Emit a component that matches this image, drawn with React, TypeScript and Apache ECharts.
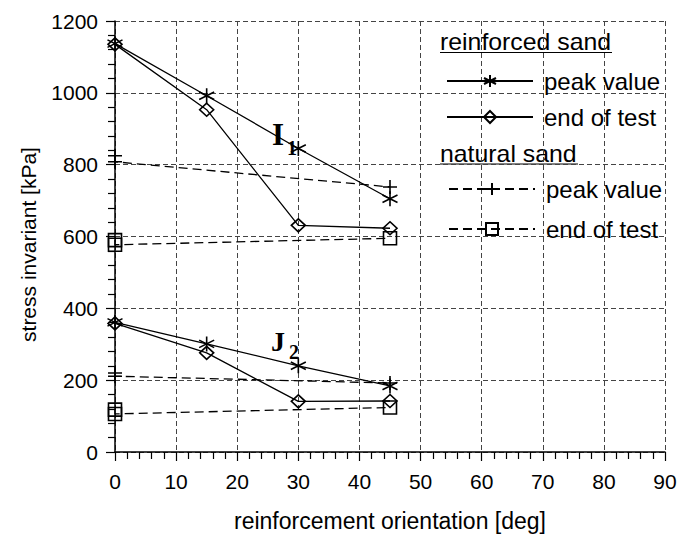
import React, { useEffect, useRef } from "react";
import * as echarts from "echarts";

// ---- data ----
const angles = [0, 15, 30, 45];
const reinfI1Peak = [1137, 992, 845, 705];
const reinfI1End = [1135, 953, 631, 623];
const reinfJ2Peak = [361, 301, 240, 184];
const reinfJ2End = [358, 276, 141, 142];

const naturalAngles = [0, 0, 45];
const natI1Peak = [825, 808, 738];
const natI1End = [590, 577, 595];
const natJ2Peak = [220, 211, 192];
const natJ2End = [118, 106, 124];

const xTicks = { min: 0, max: 90, interval: 10 };
const yTicks = { min: 0, max: 1200, interval: 200 };

const legendNames = {
  rPeak: "reinforced peak",
  rEnd: "reinforced end",
  nPeak: "natural peak",
  nEnd: "natural end",
};
const legendLabels: Record<string, string> = {
  [legendNames.rPeak]: "peak value",
  [legendNames.rEnd]: "end of test",
  [legendNames.nPeak]: "peak value",
  [legendNames.nEnd]: "end of test",
};
const headings = ["reinforced sand", "natural sand"];

const FONT = "'Liberation Sans', Arial, sans-serif";
const SERIF = "'Liberation Serif', 'Times New Roman', serif";

const STAR = "path://M0,-10L0,10M-8.66,-5L8.66,5M-8.66,5L8.66,-5";
const PLUS = "path://M0,-10L0,10M-10,0L10,0";

const pair = (xs: number[], ys: number[]) => xs.map((x, i) => [x, ys[i]]);

function makeSeries(
  name: string,
  xs: number[],
  ys: number[],
  symbol: string,
  size: number | number[],
  dashed: boolean
) {
  return {
    type: "line",
    name,
    data: pair(xs, ys),
    symbol,
    symbolSize: size,
    showAllSymbol: true,
    lineStyle: {
      color: "#000",
      width: 1.3,
      type: dashed ? [9, 5] : "solid",
    },
    itemStyle: {
      color: "rgba(0,0,0,0)",
      borderColor: "#000",
      borderWidth: 1.6,
    },
    emphasis: { disabled: true },
    z: 3,
  };
}

export default function App() {
  const ref = useRef<HTMLDivElement>(null);

  useEffect(() => {
    document.body.style.margin = "0";
    if (!ref.current) return;
    const chart = echarts.init(ref.current, undefined, { renderer: "svg" });

    const legendCommon = {
      orient: "vertical",
      itemWidth: 86,
      itemHeight: 15,
      selectedMode: false,
      formatter: (n: string) => legendLabels[n] ?? n,
      textStyle: {
        fontFamily: FONT,
        fontSize: 24,
        color: "#000",
        lineHeight: 24,
        padding: [0, 0, 0, 6],
      },
    };

    chart.setOption({
      animation: false,
      backgroundColor: "#fff",
      grid: { left: 115, right: 18, top: 21, bottom: 82 },
      xAxis: {
        type: "value",
        ...xTicks,
        name: "reinforcement orientation [deg]",
        nameLocation: "middle",
        nameGap: 57,
        nameTextStyle: { fontFamily: FONT, fontSize: 23, color: "#000" },
        axisLine: { lineStyle: { color: "#000", width: 1.5 } },
        axisTick: { show: true, length: 9, lineStyle: { color: "#000", width: 1.2 } },
        minorTick: { show: true, splitNumber: 5, length: 7, lineStyle: { color: "#000", width: 1.2 } },
        axisLabel: { fontFamily: FONT, fontSize: 21, color: "#000", margin: 19 },
        splitLine: { show: true, lineStyle: { color: "#444", width: 1, type: [5, 3] } },
      },
      yAxis: {
        type: "value",
        ...yTicks,
        name: "stress invariant [kPa]",
        nameLocation: "middle",
        nameGap: 76,
        nameTextStyle: { fontFamily: FONT, fontSize: 21, color: "#000", padding: [0, 16, 0, 0] },
        axisLine: { show: true, lineStyle: { color: "#000", width: 1.5 } },
        axisTick: { show: true, length: 9, lineStyle: { color: "#000", width: 1.2 } },
        minorTick: { show: true, splitNumber: 5, length: 7, lineStyle: { color: "#000", width: 1.2 } },
        axisLabel: {
          fontFamily: FONT,
          fontSize: 21,
          color: "#000",
          margin: 17,
          formatter: (v: number) => String(v),
        },
        splitLine: { show: true, lineStyle: { color: "#444", width: 1, type: [5, 3] } },
      },
      legend: [
        {
          ...legendCommon,
          left: 441,
          top: 64,
          itemGap: 12,
          data: [legendNames.rPeak, legendNames.rEnd],
        },
        {
          ...legendCommon,
          left: 443,
          top: 172,
          itemGap: 16,
          data: [legendNames.nPeak, legendNames.nEnd],
        },
      ],
      graphic: [
        {
          type: "text",
          x: 440,
          y: 42,
          scaleX: 1.08,
          style: { x: 0, y: 0, text: headings[0], font: `23px ${FONT}`, fill: "#000", verticalAlign: "middle" },
        },
        { type: "line", shape: { x1: 440, y1: 52.5, x2: 612, y2: 52.5 }, style: { stroke: "#000", lineWidth: 1 } },
        {
          type: "text",
          x: 440,
          y: 154,
          scaleX: 1.08,
          style: { x: 0, y: 0, text: headings[1], font: `23px ${FONT}`, fill: "#000", verticalAlign: "middle" },
        },
        { type: "line", shape: { x1: 440, y1: 164, x2: 578, y2: 164 }, style: { stroke: "#000", lineWidth: 1 } },
        {
          type: "text",
          z: 10,
          style: { x: 272, y: 134, text: "I", font: `bold 31px ${SERIF}`, fill: "#000", verticalAlign: "middle" },
        },
        {
          type: "text",
          z: 10,
          style: { x: 287, y: 148, text: "1", font: `bold 20px ${SERIF}`, fill: "#000", verticalAlign: "middle" },
        },
        {
          type: "text",
          z: 10,
          style: { x: 271, y: 341, text: "J", font: `bold 28px ${SERIF}`, fill: "#000", verticalAlign: "middle" },
        },
        {
          type: "text",
          z: 10,
          style: { x: 289, y: 352, text: "2", font: `bold 20px ${SERIF}`, fill: "#000", verticalAlign: "middle" },
        },
      ],
      series: [
        makeSeries(legendNames.rPeak, angles, reinfI1Peak, STAR, 15, false),
        makeSeries(legendNames.rEnd, angles, reinfI1End, "diamond", [14, 13], false),
        makeSeries(legendNames.nPeak, naturalAngles, natI1Peak, PLUS, 14, true),
        makeSeries(legendNames.nEnd, naturalAngles, natI1End, "rect", 13, true),
        makeSeries(legendNames.rPeak, angles, reinfJ2Peak, STAR, 15, false),
        makeSeries(legendNames.rEnd, angles, reinfJ2End, "diamond", [14, 13], false),
        makeSeries(legendNames.nPeak, naturalAngles, natJ2Peak, PLUS, 14, true),
        makeSeries(legendNames.nEnd, naturalAngles, natJ2End, "rect", 13, true),
      ],
    });

    return () => chart.dispose();
  }, []);

  return <div ref={ref} style={{ width: 683, height: 537 }} />;
}
